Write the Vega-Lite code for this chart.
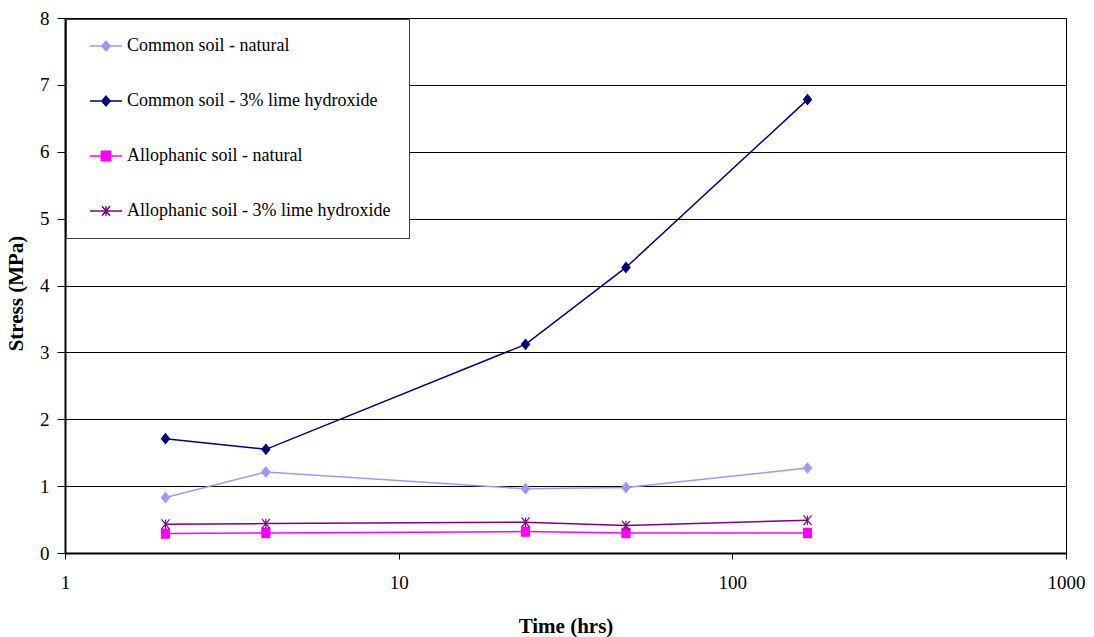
{
  "$schema": "https://vega.github.io/schema/vega-lite/v6.json",
  "width": 1001,
  "height": 535,
  "autosize": "none",
  "padding": {"left": 65, "top": 18, "right": 28, "bottom": 84},
  "background": "white",
  "config": {
    "font": "Liberation Serif",
    "view": {"stroke": "black", "strokeWidth": 1}
  },
  "data": {
    "values": [
      {"series": "Common soil - natural", "time": 2, "stress": 0.83},
      {"series": "Common soil - natural", "time": 4, "stress": 1.21},
      {"series": "Common soil - natural", "time": 24, "stress": 0.96},
      {"series": "Common soil - natural", "time": 48, "stress": 0.98},
      {"series": "Common soil - natural", "time": 168, "stress": 1.27},
      {"series": "Common soil - 3% lime hydroxide", "time": 2, "stress": 1.71},
      {"series": "Common soil - 3% lime hydroxide", "time": 4, "stress": 1.55},
      {"series": "Common soil - 3% lime hydroxide", "time": 24, "stress": 3.12},
      {"series": "Common soil - 3% lime hydroxide", "time": 48, "stress": 4.27},
      {"series": "Common soil - 3% lime hydroxide", "time": 168, "stress": 6.78},
      {"series": "Allophanic soil - natural", "time": 2, "stress": 0.29},
      {"series": "Allophanic soil - natural", "time": 4, "stress": 0.30},
      {"series": "Allophanic soil - natural", "time": 24, "stress": 0.32},
      {"series": "Allophanic soil - natural", "time": 48, "stress": 0.30},
      {"series": "Allophanic soil - natural", "time": 168, "stress": 0.30},
      {"series": "Allophanic soil - 3% lime hydroxide", "time": 2, "stress": 0.43},
      {"series": "Allophanic soil - 3% lime hydroxide", "time": 4, "stress": 0.44},
      {"series": "Allophanic soil - 3% lime hydroxide", "time": 24, "stress": 0.46},
      {"series": "Allophanic soil - 3% lime hydroxide", "time": 48, "stress": 0.41},
      {"series": "Allophanic soil - 3% lime hydroxide", "time": 168, "stress": 0.49}
    ]
  },
  "encoding": {
    "x": {
      "field": "time",
      "type": "quantitative",
      "scale": {"type": "log", "domain": [1, 1000], "nice": false},
      "axis": {
        "values": [1, 10, 100, 1000],
        "format": "d",
        "title": "Time (hrs)",
        "grid": false,
        "domainColor": "black",
        "domainWidth": 2,
        "tickColor": "black",
        "tickSize": 6,
        "labelPadding": 14,
        "labelFontSize": 19,
        "labelColor": "black",
        "labelFlush": false,
        "titleFontSize": 21,
        "titleFontWeight": "bold",
        "titleColor": "black",
        "titleBaseline": "alphabetic",
        "titleY": 79
      }
    },
    "y": {
      "field": "stress",
      "type": "quantitative",
      "scale": {"domain": [0, 8], "nice": false},
      "axis": {
        "values": [0, 1, 2, 3, 4, 5, 6, 7, 8],
        "title": "Stress (MPa)",
        "grid": true,
        "gridColor": "black",
        "gridWidth": 1,
        "domainColor": "black",
        "domainWidth": 2,
        "tickColor": "black",
        "tickSize": 8,
        "labelPadding": 8,
        "labelFontSize": 19,
        "labelColor": "black",
        "titleFontSize": 21,
        "titleFontWeight": "bold",
        "titleColor": "black",
        "titleAngle": -90,
        "titleBaseline": "alphabetic",
        "titleAlign": "center",
        "titleX": -43,
        "titleY": 275
      }
    }
  },
  "layer": [
    {
      "mark": {"type": "line", "strokeWidth": 1.5},
      "encoding": {
        "color": {
          "field": "series",
          "type": "nominal",
          "scale": {
            "domain": ["Common soil - natural", "Common soil - 3% lime hydroxide", "Allophanic soil - natural", "Allophanic soil - 3% lime hydroxide"],
            "range": ["#9999FF", "#000080", "#FF00FF", "#800080"]
          },
          "legend": {
            "title": null,
            "orient": "none",
            "legendX": 1,
            "legendY": 1,
            "padding": 18,
            "fillColor": "white",
            "strokeColor": "#404040",
            "labelFontSize": 18,
            "labelColor": "black",
            "labelFont": "Liberation Serif",
            "labelLimit": 400,
            "symbolSize": 256,
            "symbolStrokeWidth": 1.5,
            "symbolOffset": 13,
            "labelOffset": 12,
            "rowPadding": 37
          }
        }
      }
    },
    {
      "mark": {"type": "point", "filled": true, "size": 64, "opacity": 1, "strokeWidth": 1.2},
      "encoding": {
        "color": {"field": "series", "type": "nominal", "legend": null},
        "stroke": {
          "field": "series",
          "type": "nominal",
          "scale": {
            "domain": ["Common soil - natural", "Common soil - 3% lime hydroxide", "Allophanic soil - natural", "Allophanic soil - 3% lime hydroxide"],
            "range": ["#9999FF", "#000080", "#FF00FF", "#800080"]
          },
          "legend": null
        },
        "shape": {
          "condition": [
            {"test": "datum.series === 'Allophanic soil - natural'", "value": "M-1,-1.15H1V1.15H-1Z"},
            {"test": "datum.series === 'Allophanic soil - 3% lime hydroxide'", "value": "M-1,-1.2L1,1.2M-1,1.2L1,-1.2M0,-1.2V1.2"}
          ],
          "value": "M0,-1.25L1,0L0,1.25L-1,0Z"
        }
      }
    },
    {
      "transform": [{"filter": "datum.time < 0"}],
      "mark": {"type": "point", "filled": true, "opacity": 1},
      "encoding": {
        "color": {"field": "series", "type": "nominal", "legend": null},
        "stroke": {"field": "series", "type": "nominal", "legend": null},
        "shape": {
          "field": "series",
          "type": "nominal",
          "scale": {
            "domain": ["Common soil - natural", "Common soil - 3% lime hydroxide", "Allophanic soil - natural", "Allophanic soil - 3% lime hydroxide"],
            "range": ["M-2,0H2M0,-0.6L0.52,0L0,0.6L-0.52,0Z", "M-2,0H2M0,-0.6L0.52,0L0,0.6L-0.52,0Z", "M-2,0H2M-0.58,-0.58H0.58V0.58H-0.58Z", "M-2,0H2M-0.5,-0.6L0.5,0.6M-0.5,0.6L0.5,-0.6M0,-0.6V0.6"]
          },
          "legend": null
        }
      }
    }
  ]
}
